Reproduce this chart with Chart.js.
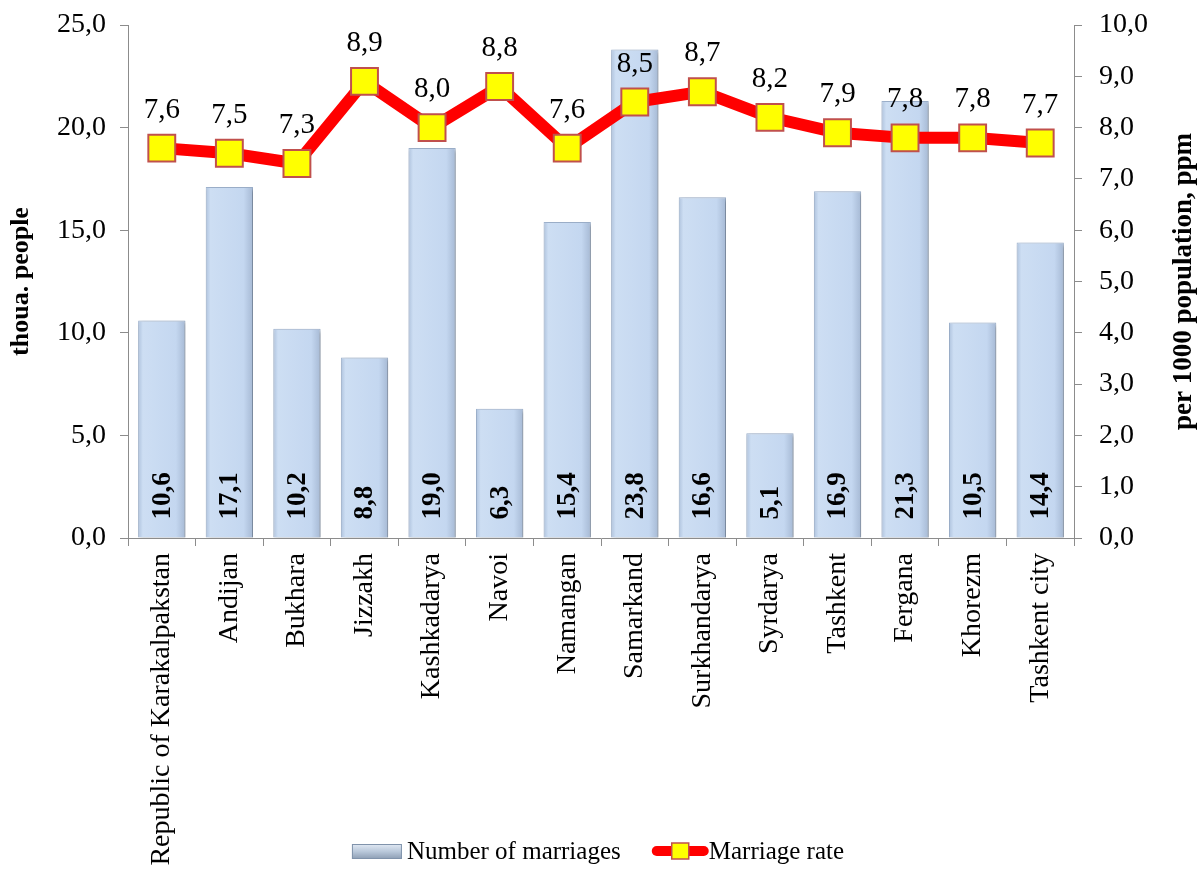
<!DOCTYPE html>
<html>
<head>
<meta charset="utf-8">
<script src="https://cdn.jsdelivr.net/npm/chart.js@4"></script>
<style>
  html, body { margin: 0; padding: 0; background: #fff; }
</style>
</head>
<body>
<canvas id="chart" width="1197" height="879"></canvas>
<script>
// data
const regions = ['Republic of Karakalpakstan', 'Andijan', 'Bukhara', 'Jizzakh', 'Kashkadarya', 'Navoi',
  'Namangan', 'Samarkand', 'Surkhandarya', 'Syrdarya', 'Tashkent', 'Fergana', 'Khorezm', 'Tashkent city'];
const marriages = [10.6, 17.1, 10.2, 8.8, 19.0, 6.3, 15.4, 23.8, 16.6, 5.1, 16.9, 21.3, 10.5, 14.4];
const marriageRate = [7.6, 7.5, 7.3, 8.9, 8.0, 8.8, 7.6, 8.5, 8.7, 8.2, 7.9, 7.8, 7.8, 7.7];
const seriesNames = ['Number of marriages', 'Marriage rate'];
const leftAxis = { min: 0, max: 25, step: 5 };
const rightAxis = { min: 0, max: 10, step: 1 };

const FONT = "'Liberation Serif', 'Times New Roman', serif";
const fmt = v => Number(v).toFixed(1).replace('.', ',');

// bar gradient, built from the x scale
function barFill(ctx) {
  const chart = ctx.chart;
  const xs = chart.scales.x;
  if (!xs || ctx.type !== 'data') return '#c6d9f1';
  const cx = xs.getPixelForValue(ctx.dataIndex);
  const w = xs.width / regions.length * 0.7;
  if (!isFinite(cx) || !isFinite(w) || w <= 0) return '#c6d9f1';
  const g = chart.ctx.createLinearGradient(cx - w / 2, 0, cx + w / 2, 0);
  g.addColorStop(0, '#aec2dd');
  g.addColorStop(0.1, '#cddef3');
  g.addColorStop(0.8, '#c4d7f0');
  g.addColorStop(1, '#a6b9d4');
  return g;
}

// legend icons
function drawBarIcon(ctx, x, y) {
  const grad = ctx.createLinearGradient(0, y, 0, y + 15);
  grad.addColorStop(0, '#e2eaf4');
  grad.addColorStop(0.5, '#b9c8da');
  grad.addColorStop(1, '#8c9db3');
  ctx.fillStyle = grad;
  ctx.fillRect(x, y, 50, 15);
  ctx.strokeStyle = '#8093ab';
  ctx.lineWidth = 1;
  ctx.strokeRect(x + 0.5, y + 0.5, 49, 14);
}
function drawLineIcon(ctx, x, cy) {
  ctx.strokeStyle = '#ff0000';
  ctx.lineWidth = 10;
  ctx.lineCap = 'round';
  ctx.beginPath(); ctx.moveTo(x + 5, cy); ctx.lineTo(x + 52, cy); ctx.stroke();
  ctx.fillStyle = '#ffff00';
  ctx.fillRect(x + 20, cy - 8, 17, 16);
  ctx.strokeStyle = '#c0504d';
  ctx.lineWidth = 1.5;
  ctx.strokeRect(x + 20, cy - 8, 17, 16);
}

const extras = {
  id: 'extras',
  beforeDatasetDraw(chart, args) {
    if (args.index === 0) {
      const ctx = chart.ctx;
      ctx.save();
      ctx.shadowColor = 'rgba(0,0,0,0.3)';
      ctx.shadowBlur = 4;
      ctx.shadowOffsetX = 2;
      ctx.shadowOffsetY = 2;
    }
  },
  afterDatasetDraw(chart, args) {
    if (args.index === 0) chart.ctx.restore();
  },
  afterDatasetsDraw(chart) {
    const ctx = chart.ctx;
    ctx.save();
    ctx.fillStyle = '#000';

    // bar values, rotated, at the foot of each bar
    ctx.font = 'bold 27px ' + FONT;
    ctx.textAlign = 'left';
    ctx.textBaseline = 'middle';
    chart.getDatasetMeta(0).data.forEach((el, i) => {
      ctx.save();
      ctx.translate(el.x, el.base - 18);
      ctx.rotate(-Math.PI / 2);
      ctx.fillText(fmt(marriages[i]), 0, 1);
      ctx.restore();
    });

    // rate values above the markers
    ctx.font = '29px ' + FONT;
    ctx.textAlign = 'center';
    chart.getDatasetMeta(1).data.forEach((el, i) => {
      ctx.fillText(fmt(marriageRate[i]), el.x, el.y - 38);
    });

    // right axis title reads bottom to top
    const a = chart.chartArea;
    ctx.save();
    ctx.font = 'bold 27px ' + FONT;
    ctx.translate(1184, (a.top + a.bottom) / 2);
    ctx.rotate(-Math.PI / 2);
    ctx.fillText('per 1000 population, ppm', 0, 0);
    ctx.restore();

    // legend at the bottom, over the long category label area
    ctx.font = '25px ' + FONT;
    ctx.textAlign = 'left';
    const w1 = ctx.measureText(seriesNames[0]).width;
    const w2 = ctx.measureText(seriesNames[1]).width;
    const total = 50 + 5 + w1 + 31 + 57 + w2;
    let x = 598 - total / 2;
    const cy = 851;
    drawBarIcon(ctx, x, cy - 7);
    x += 55;
    ctx.fillStyle = '#000';
    ctx.fillText(seriesNames[0], x, cy + 1);
    x += w1 + 31;
    drawLineIcon(ctx, x, cy);
    x += 57;
    ctx.fillStyle = '#000';
    ctx.fillText(seriesNames[1], x, cy + 1);
    ctx.restore();
  }
};

const axisGrey = '#8c8c8c';
const fitY = w => s => { s.width = w; s.paddingTop = 0; s.paddingBottom = 0; };

new Chart(document.getElementById('chart'), {
  type: 'bar',
  data: {
    labels: regions,
    datasets: [
      {
        label: seriesNames[0],
        data: marriages,
        yAxisID: 'y',
        order: 1,
        backgroundColor: barFill,
        borderColor: '#9fb3ce',
        borderWidth: 1,
        barPercentage: 0.7,
        categoryPercentage: 1.0
      },
      {
        type: 'line',
        label: seriesNames[1],
        data: marriageRate,
        yAxisID: 'y1',
        order: 0,
        borderColor: '#ff0000',
        borderWidth: 12,
        tension: 0,
        pointStyle: 'rect',
        pointRadius: 19,
        pointHoverRadius: 19,
        pointBackgroundColor: '#ffff00',
        pointBorderColor: '#c0504d',
        pointBorderWidth: 2
      }
    ]
  },
  options: {
    responsive: false,
    animation: false,
    layout: { padding: { top: 25, right: 0, bottom: 0, left: 0 } },
    scales: {
      x: {
        offset: true,
        afterFit: s => { s.height = 341; },
        grid: { drawOnChartArea: false, drawTicks: true, tickLength: 8, color: axisGrey, offset: true },
        border: { display: true, color: axisGrey },
        ticks: {
          autoSkip: false,
          minRotation: 90,
          maxRotation: 90,
          padding: 7,
          color: '#000',
          font: { family: FONT, size: 28 }
        }
      },
      y: {
        position: 'left',
        min: leftAxis.min,
        max: leftAxis.max,
        afterFit: fitY(128),
        grid: { drawOnChartArea: false, tickLength: 8, color: axisGrey },
        border: { display: true, color: axisGrey },
        ticks: {
          stepSize: leftAxis.step,
          padding: 14,
          color: '#000',
          font: { family: FONT, size: 28 },
          callback: v => fmt(v)
        },
        title: {
          display: true,
          text: 'thoua. people',
          color: '#000',
          padding: { top: 6, bottom: 0 },
          font: { family: FONT, size: 26, weight: 'bold' }
        }
      },
      y1: {
        position: 'right',
        min: rightAxis.min,
        max: rightAxis.max,
        afterFit: fitY(123),
        grid: { drawOnChartArea: false, tickLength: 8, color: axisGrey },
        border: { display: true, color: axisGrey },
        ticks: {
          stepSize: rightAxis.step,
          padding: 17,
          color: '#000',
          font: { family: FONT, size: 28 },
          callback: v => fmt(v)
        }
      }
    },
    plugins: {
      tooltip: { enabled: false },
      legend: { display: false }
    }
  },
  plugins: [extras]
});
</script>
</body>
</html>
